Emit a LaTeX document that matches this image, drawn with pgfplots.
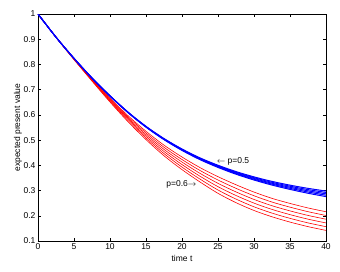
\documentclass[border=0pt]{standalone}
\usepackage{pgfplots}
\pgfplotsset{compat=1.18}
\usepackage{pgfplotstable}
\usepackage{fontspec}
\setmainfont{Liberation Sans}
\pgfplotstableread{
t    b1     b2     b3     b4     b5
0    1.000  1.000  1.000  1.000  1.000
2.5  0.908  0.908  0.908  0.908  0.908
5    0.8242 0.8241 0.824  0.8239 0.8238
7.5  0.7464 0.7462 0.746  0.7458 0.7456
10   0.6757 0.6753 0.675  0.6747 0.6743
12.5 0.6111 0.6105 0.610  0.6095 0.6089
15   0.5545 0.5538 0.553  0.5522 0.5515
17.5 0.5061 0.5051 0.504  0.5029 0.5019
20   0.4648 0.4634 0.462  0.4606 0.4592
22.5 0.4295 0.4277 0.426  0.4243 0.4225
25   0.4003 0.3981 0.396  0.3939 0.3917
27.5 0.3752 0.3726 0.370  0.3674 0.3648
30   0.3542 0.3511 0.348  0.3449 0.3418
32.5 0.3363 0.3326 0.329  0.3254 0.3217
35   0.3214 0.3172 0.313  0.3088 0.3046
37.5 0.3087 0.3038 0.299  0.2942 0.2893
40   0.298  0.2925 0.287  0.2815 0.276
}\bluetab
\pgfplotstableread{
t    r1     r2     r3     r4     r5     r6
0    1.000  1.000  1.000  1.000  1.000  1.000
2.5  0.909  0.9086 0.9082 0.9078 0.9074 0.907
5    0.824  0.823  0.822  0.821  0.820  0.819
7.5  0.744  0.742  0.740  0.738  0.736  0.734
10   0.667  0.6638 0.6606 0.6574 0.6542 0.651
12.5 0.597  0.5922 0.5874 0.5826 0.5778 0.573
15   0.535  0.5284 0.5218 0.5152 0.5086 0.502
17.5 0.480  0.4716 0.4632 0.4548 0.4464 0.438
20   0.433  0.423  0.413  0.403  0.393  0.383
22.5 0.391  0.3796 0.3682 0.3568 0.3454 0.334
25   0.355  0.3418 0.3286 0.3154 0.3022 0.289
27.5 0.323  0.3088 0.2946 0.2804 0.2662 0.252
30   0.294  0.2794 0.2648 0.2502 0.2356 0.221
32.5 0.269  0.2544 0.2398 0.2252 0.2106 0.196
35   0.249  0.2342 0.2194 0.2046 0.1898 0.175
37.5 0.231  0.2162 0.2014 0.1866 0.1718 0.157
40   0.216  0.2012 0.1864 0.1716 0.1568 0.142
}\redtab
\begin{document}
\begin{tikzpicture}
\path[use as bounding box] (-38pt,-31pt) rectangle (302pt,241pt);
\begin{axis}[
  at={(0,0)}, anchor=south west,
  scale only axis, width=288pt, height=227pt,
  xmin=0, xmax=40, ymin=0.1, ymax=1,
  xtick={0,5,...,40},
  ytick={0.1,0.2,0.3,0.4,0.5,0.6,0.7,0.8,0.9,1},
  yticklabels={0.1,0.2,0.3,0.4,0.5,0.6,0.7,0.8,0.9,1},
  tick align=inside, tick pos=both,
  major tick length=3pt,
  axis line style={line width=0.8pt},
  every tick/.style={black, line width=0.5pt},
  tick label style={font=\fontsize{8.5}{10}\selectfont},
  /pgf/number format/assume math mode=true,
  xlabel={time t}, ylabel={expected present value},
  label style={font=\fontsize{8.5}{10}\selectfont},
  xlabel style={yshift=1pt},
  ylabel style={yshift=-5pt},
  xticklabel style={yshift=1pt},
  yticklabel style={xshift=1pt},
]
\foreach \c in {r1,r2,r3,r4,r5,r6}{
  \addplot[red, line width=0.6pt, smooth] table[x=t, y=\c] {\redtab};
}
\foreach \c in {b1,b2,b3,b4,b5}{
  \addplot[blue, line width=1pt, smooth] table[x=t, y=\c] {\bluetab};
}
\node[anchor=west, font=\fontsize{8.5}{10}\selectfont, inner sep=0pt] at (axis cs:24.8,0.417) {$\leftarrow$ p=0.5};
\node[anchor=west, font=\fontsize{8.5}{10}\selectfont, inner sep=0pt] at (axis cs:17.8,0.326) {p=0.6$\rightarrow$};
\end{axis}
\end{tikzpicture}
\end{document}
